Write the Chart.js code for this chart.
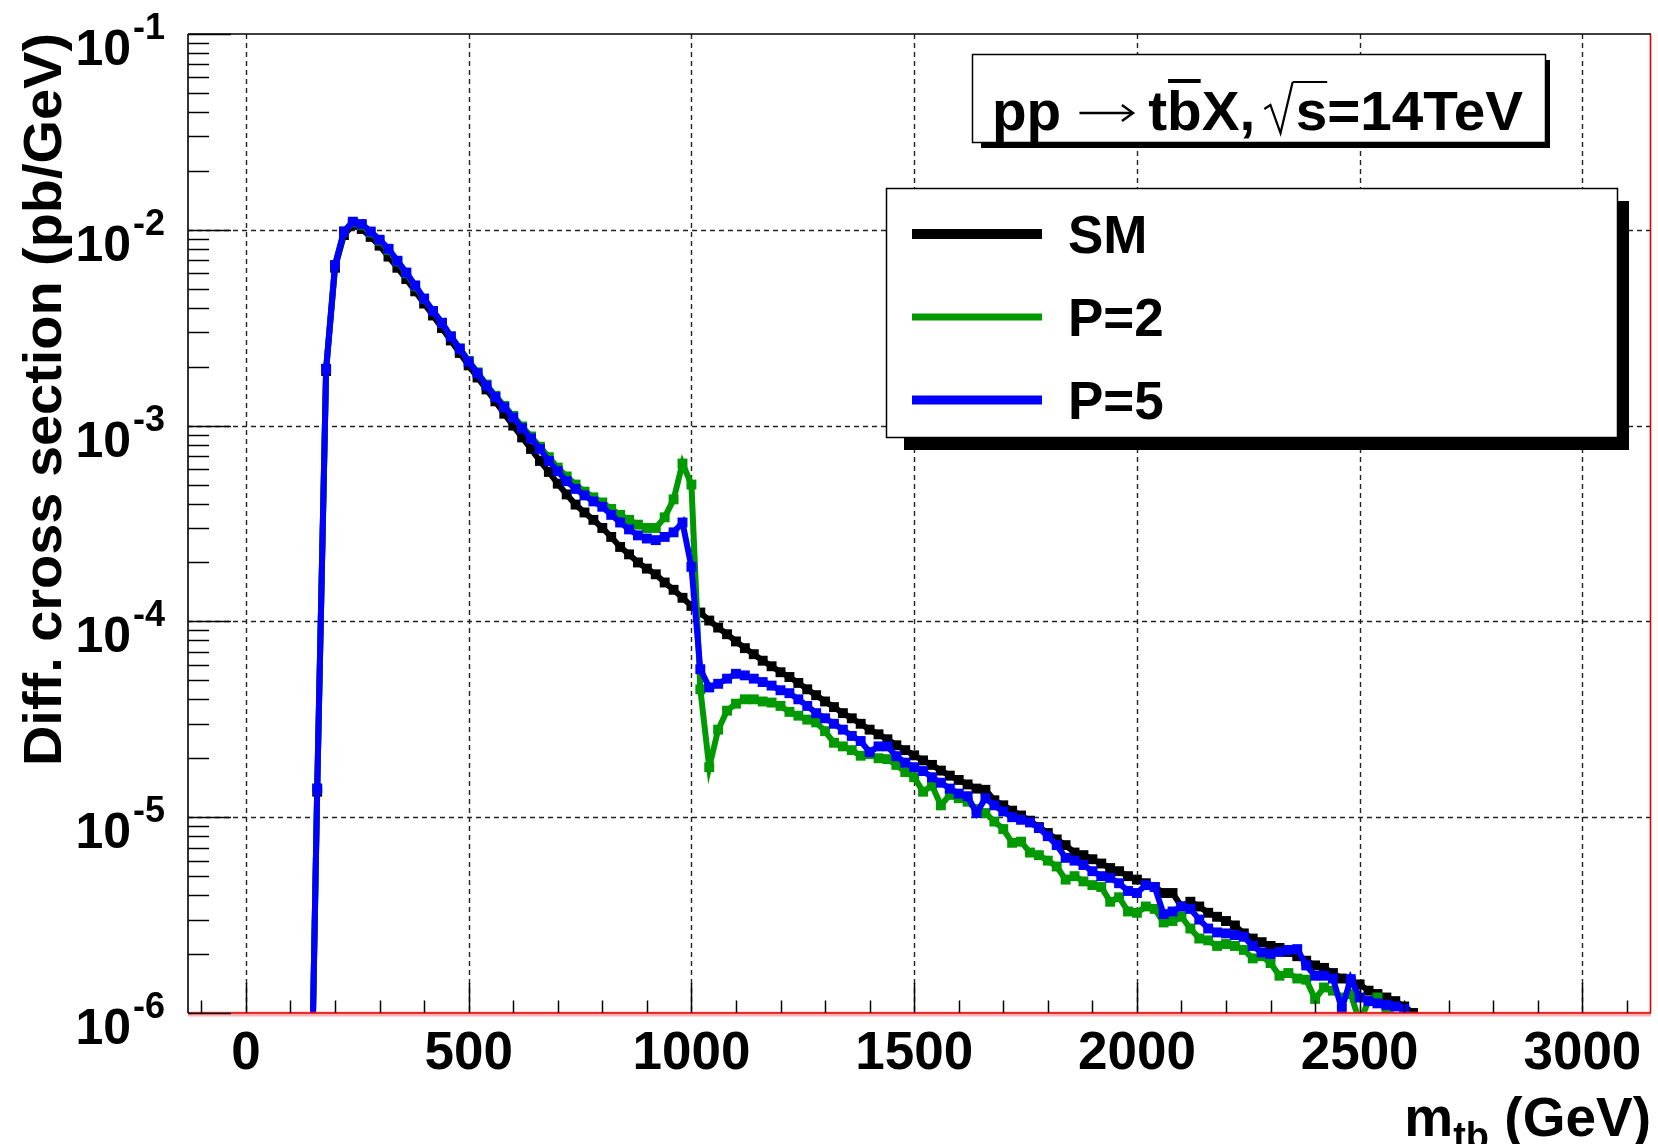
<!DOCTYPE html>
<html>
<head>
<meta charset="utf-8">
<title>m_tb spectrum</title>
<script src="https://cdn.jsdelivr.net/npm/chart.js@4.4.1/dist/chart.umd.min.js"></script>
<style>
  html, body { margin: 0; padding: 0; background: #fff; }
  canvas { display: block; }
</style>
</head>
<body>
<canvas id="myChart" width="1658" height="1144" style="width:1658px;height:1144px"></canvas>
<script>
// bin centres in GeV (20 GeV bins)
var massGeV = [
  140, 160, 180, 200, 220, 240, 260, 280, 300, 320,
  340, 360, 380, 400, 420, 440, 460, 480, 500, 520,
  540, 560, 580, 600, 620, 640, 660, 680, 700, 720,
  740, 760, 780, 800, 820, 840, 860, 880, 900, 920,
  940, 960, 980, 1000, 1020, 1040, 1060, 1080, 1100, 1120,
  1140, 1160, 1180, 1200, 1220, 1240, 1260, 1280, 1300, 1320,
  1340, 1360, 1380, 1400, 1420, 1440, 1460, 1480, 1500, 1520,
  1540, 1560, 1580, 1600, 1620, 1640, 1660, 1680, 1700, 1720,
  1740, 1760, 1780, 1800, 1820, 1840, 1860, 1880, 1900, 1920,
  1940, 1960, 1980, 2000, 2020, 2040, 2060, 2080, 2100, 2120,
  2140, 2160, 2180, 2200, 2220, 2240, 2260, 2280, 2300, 2320,
  2340, 2360, 2380, 2400, 2420, 2440, 2460, 2480, 2500, 2520,
  2540, 2560, 2580, 2600, 2620
];

// SM  (pb/GeV)
var smXsec = [
  5e-8, 1.35e-5, 1.9e-3, 6.4e-3, 9.4e-3, 1.06e-2, 1.01e-2, 9.2e-3, 8.3e-3, 7.3e-3,
  6.4e-3, 5.6e-3, 4.85e-3, 4.2e-3, 3.65e-3, 3.15e-3, 2.72e-3, 2.35e-3, 2.03e-3, 1.76e-3,
  1.53e-3, 1.33e-3, 1.15e-3, 1.0e-3, 8.7e-4, 7.6e-4, 6.6e-4, 5.8e-4, 5.05e-4, 4.45e-4,
  3.95e-4, 3.6e-4, 3.3e-4, 3.0e-4, 2.7e-4, 2.4e-4, 2.2e-4, 2.0e-4, 1.86e-4, 1.74e-4,
  1.58e-4, 1.45e-4, 1.32e-4, 1.2e-4, 1.11e-4, 1.01e-4, 9.3e-5, 8.6e-5, 7.9e-5, 7.3e-5,
  6.8e-5, 6.3e-5, 5.9e-5, 5.5e-5, 5.2e-5, 4.85e-5, 4.5e-5, 4.2e-5, 3.9e-5, 3.65e-5,
  3.4e-5, 3.2e-5, 3.0e-5, 2.8e-5, 2.65e-5, 2.5e-5, 2.33e-5, 2.2e-5, 2.07e-5, 1.95e-5,
  1.85e-5, 1.73e-5, 1.63e-5, 1.55e-5, 1.47e-5, 1.4e-5, 1.38e-5, 1.22e-5, 1.15e-5, 1.08e-5,
  1.02e-5, 9.6e-6, 8.9e-6, 8.3e-6, 7.7e-6, 7.2e-6, 6.6e-6, 6.4e-6, 6.1e-6, 5.8e-6,
  5.5e-6, 5.3e-6, 5.0e-6, 4.8e-6, 4.6e-6, 4.4e-6, 4.1e-6, 4.1e-6, 3.5e-6, 3.7e-6,
  3.5e-6, 3.25e-6, 3.1e-6, 2.95e-6, 2.8e-6, 2.55e-6, 2.4e-6, 2.3e-6, 2.2e-6, 2.15e-6,
  2.05e-6, 1.95e-6, 1.85e-6, 1.75e-6, 1.7e-6, 1.6e-6, 1.5e-6, 1.45e-6, 1.4e-6, 1.3e-6,
  1.25e-6, 1.2e-6, 1.15e-6, 1.08e-6, 1.0e-6
];

// P=2
var p2Xsec = [
  5e-8, 1.4e-5, 1.95e-3, 6.6e-3, 9.8e-3, 1.09e-2, 1.06e-2, 9.7e-3, 8.8e-3, 7.9e-3,
  6.9e-3, 6.0e-3, 5.15e-3, 4.45e-3, 3.85e-3, 3.35e-3, 2.86e-3, 2.48e-3, 2.14e-3, 1.87e-3,
  1.62e-3, 1.42e-3, 1.26e-3, 1.12e-3, 9.9e-4, 8.8e-4, 7.8e-4, 6.9e-4, 6.1e-4, 5.5e-4,
  5.0e-4, 4.6e-4, 4.3e-4, 4.05e-4, 3.75e-4, 3.5e-4, 3.3e-4, 3.12e-4, 3.0e-4, 3.0e-4,
  3.4e-4, 4.2e-4, 6.4e-4, 5.0e-4, 4.5e-5, 1.8e-5, 2.8e-5, 3.5e-5, 3.8e-5, 4.0e-5,
  4.0e-5, 3.9e-5, 3.85e-5, 3.7e-5, 3.45e-5, 3.3e-5, 3.15e-5, 3.05e-5, 2.75e-5, 2.4e-5,
  2.3e-5, 2.2e-5, 2.06e-5, 2.1e-5, 2.0e-5, 1.98e-5, 1.85e-5, 1.7e-5, 1.6e-5, 1.35e-5,
  1.45e-5, 1.15e-5, 1.3e-5, 1.25e-5, 1.2e-5, 1.1e-5, 1.05e-5, 9.5e-6, 8.7e-6, 7.4e-6,
  7.5e-6, 6.6e-6, 6.4e-6, 6.0e-6, 5.6e-6, 4.8e-6, 5.0e-6, 4.7e-6, 4.5e-6, 4.4e-6,
  3.7e-6, 3.9e-6, 3.3e-6, 3.25e-6, 3.5e-6, 3.4e-6, 2.9e-6, 2.95e-6, 3.1e-6, 2.7e-6,
  2.4e-6, 2.35e-6, 2.2e-6, 2.25e-6, 2.2e-6, 2.1e-6, 1.9e-6, 1.95e-6, 1.8e-6, 1.55e-6,
  1.6e-6, 1.5e-6, 1.48e-6, 1.18e-6, 1.35e-6, 1.3e-6, 1.2e-6, 1.25e-6, 9e-7, 1.15e-6,
  1.2e-6, 1.05e-6, 9.5e-7, 9e-7, null
];

// P=5
var p5Xsec = [
  5e-8, 1.4e-5, 1.95e-3, 6.6e-3, 9.8e-3, 1.1e-2, 1.07e-2, 9.8e-3, 8.9e-3, 8.0e-3,
  6.95e-3, 6.05e-3, 5.2e-3, 4.45e-3, 3.85e-3, 3.35e-3, 2.85e-3, 2.47e-3, 2.12e-3, 1.85e-3,
  1.6e-3, 1.4e-3, 1.24e-3, 1.1e-3, 9.7e-4, 8.6e-4, 7.6e-4, 6.6e-4, 5.85e-4, 5.2e-4,
  4.75e-4, 4.4e-4, 4.1e-4, 3.85e-4, 3.5e-4, 3.2e-4, 2.95e-4, 2.75e-4, 2.65e-4, 2.6e-4,
  2.7e-4, 2.85e-4, 3.2e-4, 1.9e-4, 5.7e-5, 4.6e-5, 4.8e-5, 5.1e-5, 5.4e-5, 5.3e-5,
  5.1e-5, 4.9e-5, 4.7e-5, 4.45e-5, 4.3e-5, 4.0e-5, 3.7e-5, 3.4e-5, 3.2e-5, 3.0e-5,
  2.8e-5, 2.6e-5, 2.45e-5, 2.15e-5, 2.3e-5, 2.3e-5, 2.05e-5, 1.9e-5, 1.8e-5, 1.72e-5,
  1.6e-5, 1.5e-5, 1.4e-5, 1.32e-5, 1.28e-5, 1.05e-5, 1.25e-5, 1.15e-5, 1.07e-5, 1.0e-5,
  9.7e-6, 9.4e-6, 8.8e-6, 8.0e-6, 7.2e-6, 6.2e-6, 6.0e-6, 5.7e-6, 5.3e-6, 5.0e-6,
  4.9e-6, 4.6e-6, 4.2e-6, 4.1e-6, 4.5e-6, 4.4e-6, 3.2e-6, 3.3e-6, 3.5e-6, 3.4e-6,
  3.0e-6, 2.7e-6, 2.58e-6, 2.55e-6, 2.5e-6, 2.45e-6, 2.2e-6, 2.04e-6, 2.0e-6, 2.05e-6,
  2.1e-6, 2.12e-6, 1.75e-6, 1.55e-6, 1.55e-6, 1.5e-6, 1.05e-6, 1.49e-6, 1.2e-6, 1.15e-6,
  1.12e-6, 1.1e-6, 1.08e-6, 1.05e-6, null
];

var seriesLabels = ['SM', 'P=2', 'P=5'];
var seriesColors = ['#000000', '#009a00', '#0000ff'];
var legendLineWidths = [10, 7, 9];

var xTicks = [0, 500, 1000, 1500, 2000, 2500, 3000];
var xTickLabels = ['0', '500', '1000', '1500', '2000', '2500', '3000'];
var yTicks = [1e-1, 1e-2, 1e-3, 1e-4, 1e-5, 1e-6];
var yTickExp = ['-1', '-2', '-3', '-4', '-5', '-6'];
var yTitle = 'Diff. cross section (pb/GeV)';
var xTitleMain = 'm';
var xTitleSub = 'tb';
var xTitleUnit = ' (GeV)';

var FONT = '"Liberation Sans", Arial, Helvetica, sans-serif';

function toPoints(vals) {
  var out = [];
  for (var i = 0; i < massGeV.length; i++) {
    if (vals[i] !== null) out.push({ x: massGeV[i], y: vals[i] });
  }
  return out;
}

function seg(ctx, x1, y1, x2, y2) {
  ctx.beginPath();
  ctx.moveTo(x1, y1);
  ctx.lineTo(x2, y2);
  ctx.stroke();
}

// box with a ROOT style drop shadow
function paveBox(ctx, x1, y1, x2, y2, sx1, sy1, sx2, sy2) {
  ctx.fillStyle = '#000';
  ctx.fillRect(sx1, sy1, sx2 - sx1, sy2 - sy1);
  ctx.fillStyle = '#fff';
  ctx.fillRect(x1, y1, x2 - x1, y2 - y1);
  ctx.strokeStyle = '#000';
  ctx.lineWidth = 1.5;
  ctx.strokeRect(x1 + 0.5, y1 + 0.5, x2 - x1, y2 - y1);
}

var rootFrame = {
  id: 'rootFrame',
  beforeDatasetsDraw: function (chart) {
    var ctx = chart.ctx, a = chart.chartArea;
    var xs = chart.scales.x, ys = chart.scales.y;
    ctx.save();
    ctx.strokeStyle = '#222';
    ctx.lineWidth = 1.4;
    ctx.setLineDash([5, 4]);
    xTicks.forEach(function (v) {
      var px = Math.round(xs.getPixelForValue(v)) + 0.5;
      seg(ctx, px, a.top, px, a.bottom);
    });
    yTicks.forEach(function (v) {
      var py = Math.round(ys.getPixelForValue(v)) + 0.5;
      if (py > a.top + 2 && py < a.bottom - 2) seg(ctx, a.left, py, a.right, py);
    });
    ctx.restore();
  },
  afterDatasetsDraw: function (chart) {
    var ctx = chart.ctx, a = chart.chartArea;
    var xs = chart.scales.x, ys = chart.scales.y;
    ctx.save();

    // frame: black left/top, red right/bottom
    ctx.strokeStyle = 'rgba(255,90,90,0.45)';
    ctx.lineWidth = 5;
    seg(ctx, a.left, a.bottom + 1, a.right, a.bottom + 1);
    ctx.strokeStyle = '#e00000';
    ctx.lineWidth = 1.6;
    seg(ctx, a.left, a.bottom, a.right, a.bottom);
    seg(ctx, a.right - 0.5, a.top, a.right - 0.5, a.bottom);
    ctx.strokeStyle = '#000';
    ctx.lineWidth = 1.6;
    seg(ctx, a.left, a.top, a.right, a.top);
    seg(ctx, a.left, a.top, a.left, a.bottom);

    // y ticks (log, inside)
    ctx.lineWidth = 1.5;
    yTicks.forEach(function (v) {
      var py = Math.round(ys.getPixelForValue(v)) + 0.5;
      seg(ctx, a.left, py, a.left + 43, py);
      for (var m = 2; m <= 9; m++) {
        var mv = v * m;
        if (mv >= ys.max) continue;
        var pm = Math.round(ys.getPixelForValue(mv)) + 0.5;
        seg(ctx, a.left, pm, a.left + 21, pm);
      }
    });

    // x ticks (inside, upward)
    for (var g = -100; g <= 3100; g += 100) {
      var px = Math.round(xs.getPixelForValue(g)) + 0.5;
      if (px <= a.left || px >= a.right) continue;
      var len = (g % 500 === 0) ? 30 : 12.5;
      seg(ctx, px, a.bottom, px, a.bottom - len);
    }

    // x tick labels
    ctx.fillStyle = '#000';
    ctx.font = 'bold 53px ' + FONT;
    ctx.textAlign = 'center';
    ctx.textBaseline = 'alphabetic';
    xTicks.forEach(function (v, i) {
      ctx.fillText(xTickLabels[i], xs.getPixelForValue(v), a.bottom + 56);
    });

    // y tick labels 10^{-n}
    yTicks.forEach(function (v, i) {
      var py = ys.getPixelForValue(v);
      ctx.font = 'bold 50px ' + FONT;
      ctx.textAlign = 'right';
      ctx.fillText('10', 131, py + 31);
      ctx.font = 'bold 36px ' + FONT;
      ctx.textAlign = 'left';
      ctx.fillText(yTickExp[i], 133, py + 5);
    });

    // y title, rotated, ending at top of frame
    ctx.save();
    ctx.translate(61, 766);
    ctx.rotate(-Math.PI / 2);
    ctx.font = 'bold 53px ' + FONT;
    var tw = ctx.measureText(yTitle).width;
    ctx.scale(733 / tw, 1);
    ctx.textAlign = 'left';
    ctx.fillText(yTitle, 0, 0);
    ctx.restore();

    // x title m_{tb} (GeV), right aligned
    ctx.textAlign = 'left';
    ctx.font = 'bold 55px ' + FONT;
    var wm = ctx.measureText(xTitleMain).width;
    var wu = ctx.measureText(xTitleUnit).width;
    ctx.font = 'bold 38px ' + FONT;
    var ws = ctx.measureText(xTitleSub).width;
    var x0 = 1651 - wm - ws - wu;
    ctx.font = 'bold 55px ' + FONT;
    ctx.fillText(xTitleMain, x0, 1136);
    ctx.fillText(xTitleUnit, x0 + wm + ws, 1136);
    ctx.font = 'bold 38px ' + FONT;
    ctx.fillText(xTitleSub, x0 + wm, 1149);

    ctx.restore();
  },
  afterDraw: function (chart) {
    var ctx = chart.ctx;
    ctx.save();

    // process label pave
    paveBox(ctx, 972, 54, 1545, 142, 981, 60, 1550, 148);
    var bold = 'bold 56px ' + FONT;
    var parts = [
      { t: 'pp', f: bold }, { arrow: true, w: 86 }, { t: 't', f: bold },
      { t: 'b', f: bold, bar: true }, { t: 'X,', f: bold }, { root: true, w: 40 },
      { t: 's', f: bold, under: true }, { t: '=14TeV', f: bold }
    ];
    var total = 0;
    parts.forEach(function (p) {
      if (p.root || p.arrow) { p.w2 = p.w; } else { ctx.font = p.f; p.w2 = ctx.measureText(p.t).width; }
      total += p.w2;
    });
    ctx.translate(992, 130);
    ctx.scale(531 / total, 1);
    ctx.fillStyle = '#000';
    ctx.strokeStyle = '#000';
    var cx = 0, rootX = 0;
    parts.forEach(function (p) {
      if (p.arrow) {
        // thin ROOT style arrow
        ctx.lineWidth = 2.4;
        seg(ctx, cx + 18, -17, cx + 70, -17);
        ctx.beginPath();
        ctx.moveTo(cx + 60, -25);
        ctx.lineTo(cx + 71, -17);
        ctx.lineTo(cx + 60, -9);
        ctx.stroke();
      } else if (p.root) {
        rootX = cx;
        ctx.lineWidth = 2.2;
        ctx.beginPath();
        ctx.moveTo(cx + 9, -21);
        ctx.lineTo(cx + 15, -25);
        ctx.lineTo(cx + 25, 3);
        ctx.lineTo(cx + 37, -48);
        ctx.stroke();
      } else {
        ctx.font = p.f;
        ctx.fillText(p.t, cx, 0);
        if (p.bar) ctx.fillRect(cx + 1, -51, p.w2 - 2, 4);
        if (p.under) { ctx.lineWidth = 2.2; seg(ctx, rootX + 37, -48, cx + p.w2, -48); }
      }
      cx += p.w2;
    });
    ctx.restore();

    // legend pave
    ctx.save();
    paveBox(ctx, 886, 188, 1617, 437, 904, 201, 1629, 450);
    var rows = [234, 317, 400];
    ctx.font = 'bold 53px ' + FONT;
    ctx.textAlign = 'left';
    ctx.textBaseline = 'alphabetic';
    seriesLabels.forEach(function (lab, i) {
      ctx.fillStyle = seriesColors[i];
      ctx.fillRect(912, rows[i] - legendLineWidths[i] / 2, 130, legendLineWidths[i]);
      ctx.fillStyle = '#000';
      ctx.fillText(lab, 1068, rows[i] + 19);
    });
    ctx.restore();
  }
};

var seriesData = [smXsec, p2Xsec, p5Xsec];
var datasets = seriesLabels.map(function (lab, i) {
  return {
    label: lab,
    data: toPoints(seriesData[i]),
    borderColor: seriesColors[i],
    backgroundColor: seriesColors[i],
    pointBackgroundColor: seriesColors[i],
    pointBorderWidth: 0,
    pointStyle: 'rect',
    pointRadius: 7,
    borderWidth: 6,
    tension: 0,
    fill: false,
    order: 3 - i
  };
});

var myChart = new Chart(document.getElementById('myChart').getContext('2d'), {
  type: 'line',
  data: { datasets: datasets },
  options: {
    responsive: false,
    animation: false,
    devicePixelRatio: 1,
    layout: { padding: { left: 188, top: 34, right: 5, bottom: 131 } },
    scales: {
      x: { type: 'linear', min: -130, max: 3154, display: false },
      y: { type: 'logarithmic', min: 1e-6, max: 1e-1, display: false }
    },
    plugins: {
      legend: { display: false },
      tooltip: { enabled: false }
    }
  },
  plugins: [rootFrame]
});
</script>
</body>
</html>
